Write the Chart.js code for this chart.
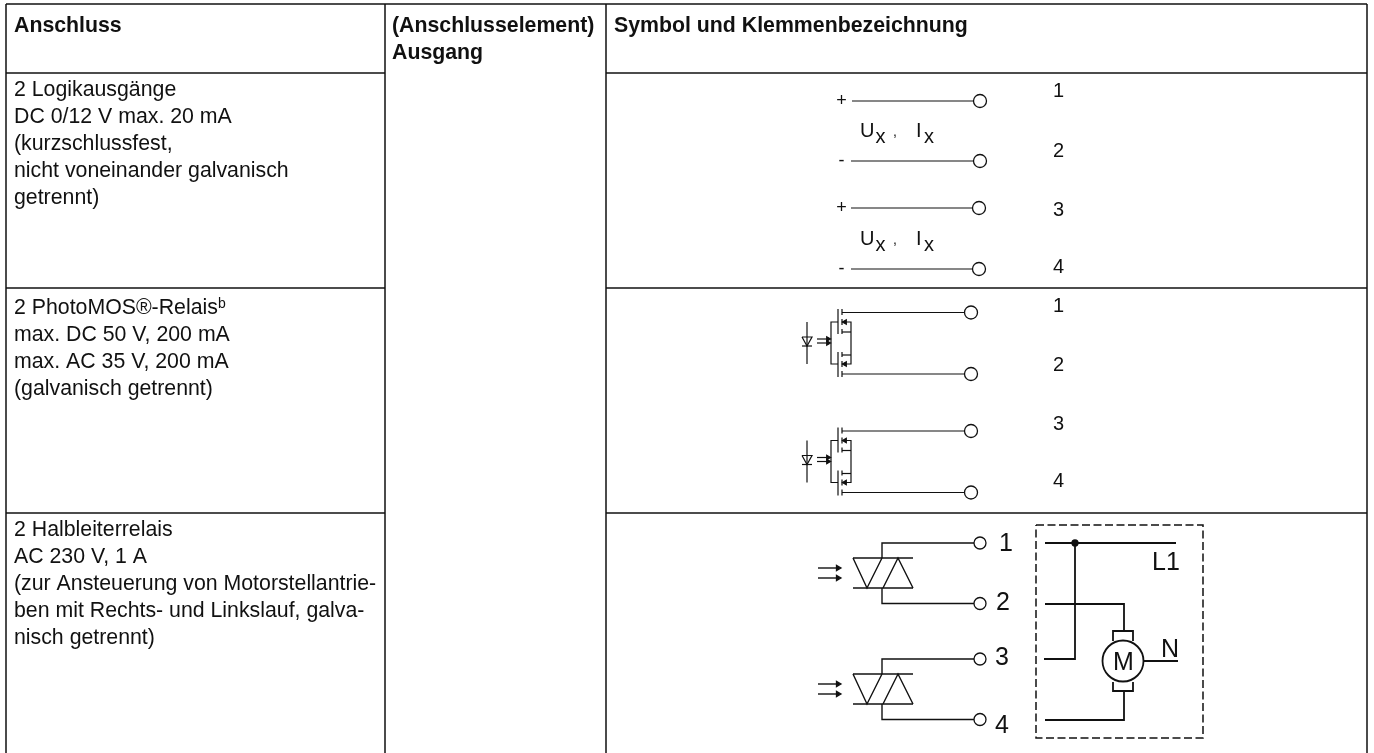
<!DOCTYPE html>
<html>
<head>
<meta charset="utf-8">
<style>
  html, body { margin: 0; padding: 0; background: #fff; overflow: hidden; }
  canvas { display: block; }
</style>
<script src="https://cdn.jsdelivr.net/npm/chart.js@4"></script>
</head>
<body>
<canvas id="plateChart" width="1374" height="753"></canvas>
<script>
const line_color = "#111"; // wires and table rules

// table rules, in drawing units of the linear scales
const table_lines = [
  [[6, 4], [1367, 4]],
  [[6, 4], [6, 753]],
  [[385, 4], [385, 753]],
  [[606, 4], [606, 753]],
  [[1367, 4], [1367, 753]],
  [[6, 73], [385, 73]],
  [[606, 73], [1367, 73]],
  [[6, 288], [385, 288]],
  [[606, 288], [1367, 288]],
  [[6, 513], [385, 513]],
  [[606, 513], [1367, 513]]
];

// logic outputs
const logic_lines = [
  [[852, 101], [974, 101]],
  [[851, 161], [974, 161]],
  [[851, 208], [973, 208]],
  [[851, 269], [973, 269]]
];
const logic_terminals = [[980, 101], [980, 161], [979, 208], [979, 269]];

// one PhotoMOS relay, drawn again lower down with relay_offsets
const relay_offsets = [0, 118.5];
const relay_lines = [
  [[807, 322], [807, 364]],
  [[802, 337], [812, 337], [807, 346], [802, 337]],
  [[802, 346], [812, 346]],
  [[817, 339], [829, 339]],
  [[817, 343], [829, 343]],
  [[838, 322], [831, 322], [831, 364], [838, 364]],
  [[838, 309], [838, 334]],
  [[838, 352], [838, 377]],
  [[842, 309], [842, 315]],
  [[842, 319], [842, 325]],
  [[842, 329], [842, 334]],
  [[842, 352], [842, 357]],
  [[842, 361], [842, 367]],
  [[842, 371], [842, 377]],
  [[842, 312.5], [965, 312.5]],
  [[842, 374], [965, 374]],
  [[842, 322], [851, 322], [851, 364], [842, 364]],
  [[842, 332], [851, 332]],
  [[842, 355], [851, 355]]
];
const relay_terminals = [[971, 312.5], [971, 374]];
const relay_arrow_tips = [[828, 339], [828, 343]];
const relay_drain_tips = [[845, 322], [845, 364]];

// solid state relays
const triac_offsets = [0, 116];
const triac_lines = [
  [[853, 558], [913, 558]],
  [[853, 588], [913, 588]],
  [[853, 558], [867, 588], [882, 558]],
  [[883, 588], [898, 558], [913, 588]],
  [[882, 558], [882, 543], [974, 543]],
  [[882, 588], [882, 603.5], [974, 603.5]],
  [[818, 568], [838, 568]],
  [[818, 578], [838, 578]]
];
const triac_terminals = [[980, 543], [980, 603.5]];
const triac_arrow_tips = [[838, 568], [838, 578]];

// external motor circuit
const motor_box = [[1036, 525], [1203, 525], [1203, 738], [1036, 738], [1036, 525]];
const motor_lines = [
  [[1045, 543], [1176, 543]],
  [[1075, 543], [1075, 659], [1044, 659]],
  [[1045, 604], [1124, 604], [1124, 631]],
  [[1113, 641], [1113, 631], [1133, 631], [1133, 641]],
  [[1113, 682], [1113, 691], [1133, 691], [1133, 682]],
  [[1124, 691], [1124, 720], [1045, 720]],
  [[1144, 661], [1178, 661]]
];
const motor_junction = [[1075, 543]];
const motor_center = [[1123, 661]];

// texts
const head_labels = ["Anschluss", "(Anschlusselement)", "Ausgang", "Symbol und Klemmenbezeichnung"];
const head_x = [14, 392, 392, 614];
const head_y = [32, 32, 59, 32];
const row_1_text = ["2 Logikausgänge", "DC 0/12 V max. 20 mA", "(kurzschlussfest,", "nicht voneinander galvanisch", "getrennt)"];
const row_2_text = ["2 PhotoMOS®-Relais", "max. DC 50 V, 200 mA", "max. AC 35 V, 200 mA", "(galvanisch getrennt)"];
const row_3_text = ["2 Halbleiterrelais", "AC 230 V, 1 A", "(zur Ansteuerung von Motorstellantrie-", "ben mit Rechts- und Linkslauf, galva-", "nisch getrennt)"];
const row_first_baseline = [96, 314, 536];
const small_numbers = ["1", "2", "3", "4"];
const logic_numbers_y = [97, 157, 216, 273];
const relay_numbers_y = [312, 371, 430, 487];
const large_numbers_x = [1006, 1003, 1002, 1002];
const large_numbers_y = [551, 610, 665, 733];
const sign_labels = ["+", "-", "+", "-"];
const sign_y = [106, 166, 213, 274];

function polyline_dataset(points, dy, width, dash) {
  // one connected wire as a line dataset
  return {
    data: points.map(p => ({x: p[0], y: p[1] + dy})),
    showLine: true,
    borderColor: line_color,
    borderWidth: width,
    borderDash: dash || [],
    pointRadius: 0,
    tension: 0
  };
}

function point_dataset(points, dy, style) {
  return Object.assign({
    data: points.map(p => ({x: p[0], y: p[1] + dy})),
    showLine: false,
    pointBackgroundColor: "#fff",
    pointBorderColor: line_color,
    pointBorderWidth: 1.3,
    pointRadius: 6
  }, style);
}

let datasets = [];
table_lines.forEach(l => datasets.push(polyline_dataset(l, 0, 1.5)));
logic_lines.forEach(l => datasets.push(polyline_dataset(l, 0, 1.2)));
datasets.push(point_dataset(logic_terminals, 0, {pointRadius: 6.5}));

relay_offsets.forEach(dy => {
  relay_lines.forEach(l => datasets.push(polyline_dataset(l, dy, 1.2)));
  datasets.push(point_dataset(relay_terminals, dy, {pointRadius: 6.5}));
  datasets.push(point_dataset(relay_arrow_tips, dy, {pointStyle: "triangle", rotation: 90, pointRadius: 2.5, pointBackgroundColor: line_color}));
  datasets.push(point_dataset(relay_drain_tips, dy, {pointStyle: "triangle", rotation: -90, pointRadius: 2.5, pointBackgroundColor: line_color}));
});

triac_offsets.forEach(dy => {
  triac_lines.forEach(l => datasets.push(polyline_dataset(l, dy, 1.4)));
  datasets.push(point_dataset(triac_terminals, dy, {pointRadius: 6}));
  datasets.push(point_dataset(triac_arrow_tips, dy, {pointStyle: "triangle", rotation: 90, pointRadius: 3, pointBackgroundColor: line_color}));
});

datasets.push(polyline_dataset(motor_box, 0, 1.5, [8, 3.5]));
motor_lines.forEach(l => datasets.push(polyline_dataset(l, 0, 1.8)));
datasets.push(point_dataset(motor_junction, 0, {pointRadius: 3, pointBackgroundColor: line_color}));
datasets.push(point_dataset(motor_center, 0, {pointRadius: 20.5, pointBorderWidth: 1.8}));

function put_text(chart, text, x, y, font, align) {
  let ctx = chart.ctx;
  ctx.font = font;
  ctx.textAlign = align || "left";
  ctx.fillStyle = line_color;
  ctx.fillText(text, chart.scales.x.getPixelForValue(x), chart.scales.y.getPixelForValue(y));
}

const text_plugin = {
  id: "plateText",
  afterDraw(chart) {
    let ctx = chart.ctx;
    const body = "21.3px 'Liberation Sans'";
    const bold = "bold 21.3px 'Liberation Sans'";
    const large = "25px 'Liberation Sans'";
    const symbol = "20px 'Liberation Sans'";
    ctx.save();
    ctx.textBaseline = "alphabetic";

    head_labels.forEach((t, i) => put_text(chart, t, head_x[i], head_y[i], bold));
    [row_1_text, row_2_text, row_3_text].forEach((rows, r) => {
      rows.forEach((t, i) => put_text(chart, t, 14, row_first_baseline[r] + i * 26.9, body));
    });
    ctx.font = body;
    let sup_x = 14 + ctx.measureText(row_2_text[0]).width;
    put_text(chart, "b", sup_x, 308, "14px 'Liberation Sans'");

    // logic output symbol texts
    sign_labels.forEach((t, i) => put_text(chart, t, 841.5, sign_y[i], "18px 'Liberation Sans'", "center"));
    small_numbers.forEach((t, i) => {
      put_text(chart, t, 1058.5, logic_numbers_y[i], symbol, "center");
      put_text(chart, t, 1058.5, relay_numbers_y[i], symbol, "center");
    });
    [137, 244.5].forEach(y => {
      put_text(chart, "U", 860, y, symbol);
      put_text(chart, "x", 875.5, y + 6, symbol);
      put_text(chart, ",", 893, y - 1, "14px 'Liberation Sans'");
      put_text(chart, "I", 916, y, symbol);
      put_text(chart, "x", 924, y + 6, symbol);
    });

    // relay and motor texts
    small_numbers.forEach((t, i) => put_text(chart, t, large_numbers_x[i], large_numbers_y[i], large, "center"));
    put_text(chart, "L1", 1152, 570, large);
    put_text(chart, "M", 1123.5, 670, large, "center");
    put_text(chart, "N", 1170, 657, large, "center");
    ctx.restore();
  }
};

new Chart(document.getElementById("plateChart").getContext("2d"), {
  type: "scatter",
  data: {datasets: datasets},
  plugins: [text_plugin],
  options: {
    responsive: false,
    animation: false,
    events: [],
    layout: {padding: 0, autoPadding: false},
    plugins: {legend: {display: false}, tooltip: {enabled: false}},
    scales: {
      x: {type: "linear", display: false, min: 0, max: 1374},
      y: {type: "linear", display: false, min: 0, max: 753, reverse: true}
    }
  }
});
</script>
</body>
</html>
